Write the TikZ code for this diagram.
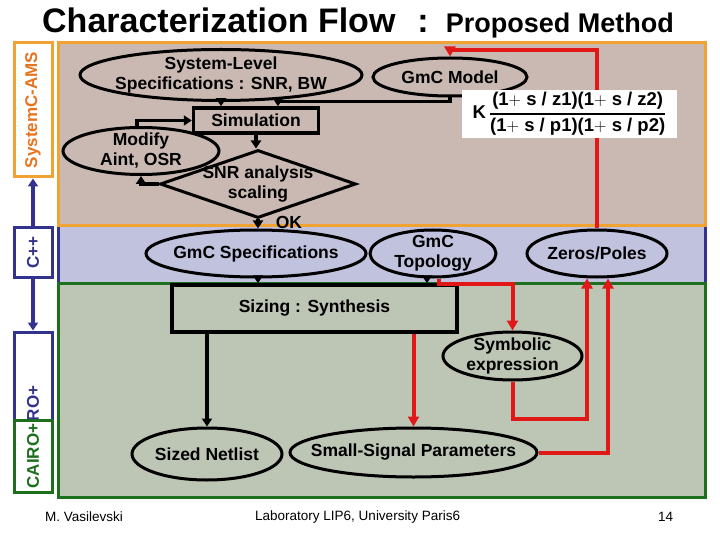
\documentclass[tikz,border=0pt]{standalone}
\usepackage{amsmath}
\usepackage{fontspec}
\setmainfont{Liberation Sans}
\usepackage{tikz}
\usetikzlibrary{arrows.meta,positioning,shapes.geometric}
\definecolor{tanbg}{HTML}{C9B9B2}
\definecolor{lavbg}{HTML}{C0C2DE}
\definecolor{sagebg}{HTML}{BDC5B5}
\definecolor{amber}{HTML}{F0A232}
\definecolor{amberink}{HTML}{E8731E}
\definecolor{navy}{HTML}{33338F}
\definecolor{forest}{HTML}{1D6F1D}
\definecolor{flowred}{HTML}{E01818}

\begin{document}
\begin{tikzpicture}[x=1pt,y=-1pt,
  lbl/.style={font=\bfseries\fontsize{17.5}{20}\selectfont,align=center},
  oval/.style={lbl,ellipse,draw,line width=3pt,inner sep=-20pt},
  boxed/.style={lbl,rectangle,draw,line width=3.5pt,inner sep=0pt},
  link/.style={draw,line width=3.2pt,arrows={-Triangle[length=8pt,width=10pt]}},
  back/.style={draw=flowred,line width=4pt,arrows={-Triangle[length=10pt,width=11pt]}},
  tag/.style={rotate=90,fill=white,line width=3pt,inner sep=0pt,font=\bfseries\fontsize{17}{19}\selectfont},
  foot/.style={anchor=west,inner sep=0pt,font=\fontsize{13.5}{15}\selectfont}]
  \useasboundingbox (0,0) rectangle (720,540);
  \fill[white] (0,0) rectangle (720,540);

  \node[anchor=base west,inner sep=0pt] (title) at (42,33)
    {\bfseries\fontsize{34}{38}\selectfont Characterization Flow\hspace{22pt}:\hspace{17pt}{\fontsize{27}{30}\selectfont Proposed Method}};

  \fill[lavbg] (58,226) rectangle (705,283);
  \draw[navy,line width=3pt] (58,226) -- (58,283) (705,226) -- (705,283);
  \draw[amber,line width=3pt,fill=tanbg] (58,43) rectangle (705,226);
  \draw[forest,line width=3pt,fill=sagebg] (58,283) rectangle (705,497);

  \node[tag,draw=amber,text=amberink,minimum width=134pt,minimum height=38pt] (sysc) at (33,110) {SystemC-AMS};
  \node[tag,draw=navy,text=navy,minimum width=160pt,minimum height=38pt] (cairob) at (33,412) {CAIRO+\hspace{12pt}\null};
  \node[tag,draw=navy,text=navy,minimum width=49pt,minimum height=38pt] (cpp) at (33,252.5) {C++};
  \node[tag,draw=forest,text=forest,minimum width=72pt,minimum height=38pt] (cairog) at (33,456) {CAIRO+};
  \draw[link,draw=navy] (cpp.east) -- (sysc.west);
  \draw[link,draw=navy] (cpp.west) -- (cairob.east);

  \node[oval,minimum width=282pt,minimum height=51pt] (spec) at (221,75) {System-Level\\Specifications : SNR, BW};
  \node[oval,minimum width=154pt,minimum height=38pt] (model) at (450,77) {GmC Model};
  \node[boxed,minimum width=125pt,minimum height=25pt] (sim) at (256,120.5) {Simulation};
  \node[oval,minimum width=156pt,minimum height=47pt] (modify) at (141,151) {Modify\\Aint, OSR};
  \node[lbl,diamond,draw,line width=3pt,inner xsep=-60pt,inner ysep=-25pt,
    minimum width=196pt,minimum height=68pt] (snr) at (258,184) {SNR analysis\\scaling};
  \node[lbl,inner sep=0pt] (ok) at (289,222) {OK};
  \node[oval,minimum width=220pt,minimum height=47pt] (gspec) at (256,253.5) {GmC Specifications};
  \node[oval,minimum width=126pt,minimum height=47pt] (topo) at (433,253.5) {GmC\\Topology};
  \node[oval,minimum width=140pt,minimum height=47pt] (zp) at (597,253.5) {Zeros/Poles};
  \node[boxed,minimum width=285pt,minimum height=47pt] (sizing) at (314.5,308.5) {Sizing : Synthesis};
  \node[oval,minimum width=139pt,minimum height=48pt] (sym) at (512.5,356) {Symbolic\\expression};
  \node[oval,minimum width=150pt,minimum height=52pt] (netlist) at (207,454) {Sized Netlist};
  \node[oval,minimum width=247pt,minimum height=49pt] (ssp) at (413.5,452.5) {Small-Signal Parameters};

  \coordinate (loop) at (598,50);
  \draw[back] (zp.north) -- (zp.north |- loop) -| (model.north);
  \node[fill=white,minimum width=215pt,minimum height=48pt,inner sep=0pt] (tf) at (569.5,114)
    {\bfseries\fontsize{18.5}{21}\selectfont K\,$\genfrac{}{}{1.2pt}{0}{\text{(1$+$ s / z1)(1$+$ s / z2)}}{\text{(1$+$ s / p1)(1$+$ s / p2)}}$};

  \draw[link] (spec.south) -- (spec.south |- sim.north);
  \draw[link] (model.south) -- ++(0,4) -| ([xshift=22pt]sim.north);
  \draw[link] (sim.south) -- (sim.south |- snr.north);
  \draw[link] (snr.west) -| (modify.south);
  \draw[link] ([xshift=-4pt]modify.north) |- (sim.west);
  \draw[link] (snr.south) -- (snr.south |- gspec.north);
  \draw[link] ([xshift=2pt]gspec.south) -- ([xshift=2pt]gspec.south |- sizing.north);
  \draw[link] ([xshift=-6pt]topo.south) -- ([xshift=-6pt]topo.south |- sizing.north);
  \draw[link] (sizing.south -| netlist.north) -- (netlist.north);

  \draw[back] ([xshift=6pt]topo.south) -- ++(0,5) -| (sym.north);
  \draw[back] (sizing.south -| ssp.north) -- (ssp.north);
  \draw[back] (sym.south) -- ++(0,37) -| ([xshift=-10pt]zp.south);
  \draw[back] (ssp.east) -| ([xshift=11pt]zp.south);

  \node[foot] (author) at (45,517) {M. Vasilevski};
  \node[foot] (lab) at (255,517) {Laboratory LIP6, University Paris6};
  \node[foot] (page) at (658,517) {14};
\end{tikzpicture}
\end{document}
